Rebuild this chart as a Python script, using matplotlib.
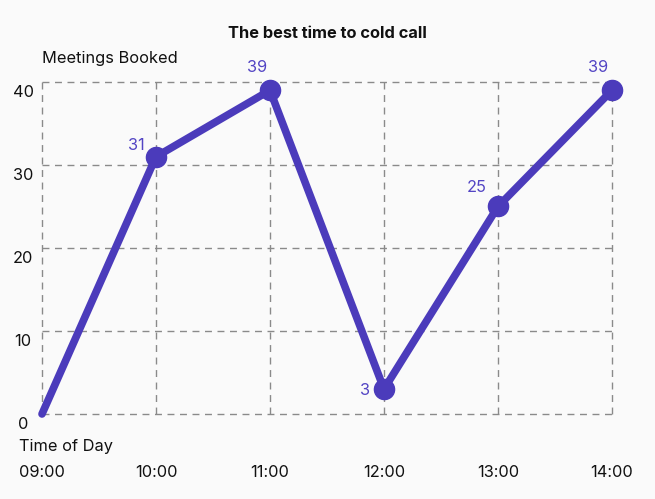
import matplotlib.pyplot as plt
from matplotlib import transforms

plt.rcParams['font.family'] = ['Inter', 'DejaVu Sans']

times = ['09:00', '10:00', '11:00', '12:00', '13:00', '14:00']
meetings = [0, 31, 39, 3, 25, 39]
y_ticks = [0, 10, 20, 30, 40]

# label offsets in points (dx, dy), one per point after the first
label_offsets = [(-14, 8), (-9, 16.5), (-14, -1), (-15, 13.5), (-10, 16.5)]

purple = '#4b3bbb'
bg = '#fafafa'
fs = 11.8

fig = plt.figure(figsize=(6.55, 4.99), dpi=100, facecolor=bg)
ax = fig.add_axes([42/655, 1-414/499, 570/655, 332/499], facecolor=bg)

x = list(range(len(times)))
ax.plot(x, meetings, color=purple, lw=5.5, solid_capstyle='round',
        marker='o', ms=14.5, markevery=list(range(1, len(times))),
        clip_on=False, zorder=3)

for i in range(1, len(times)):
    dx, dy = label_offsets[i-1]
    ax.annotate(str(meetings[i]), (x[i], meetings[i]), xytext=(dx, dy),
                textcoords='offset points', ha='center', va='center',
                color='#5345c4', fontsize=fs)

ax.set_xlim(0, len(times)-1)
ax.set_ylim(0, 40)
ax.set_xticks(x)
ax.set_xticklabels(times)
ax.set_yticks(y_ticks)
ax.set_yticklabels([str(v) for v in y_ticks])
ax.tick_params(length=0, labelsize=fs, colors='#111111')
ax.tick_params(axis='x', pad=37)
ax.tick_params(axis='y', pad=0)
for lab in ax.get_yticklabels():
    lab.set_horizontalalignment('center')
    lab.set_transform(lab.get_transform() +
                      transforms.ScaledTranslation(-19/100, -9/100, fig.dpi_scale_trans))

for s in ax.spines.values():
    s.set_visible(False)
ax.grid(True, color='#8a8a8a', lw=1, ls=(0, (5, 4)))
for gl in ax.get_xgridlines() + ax.get_ygridlines():
    gl.set_clip_on(False)

fig.text(0.5, 1-33/499, 'The best time to cold call', ha='center', va='center',
         fontsize=fs, fontweight='bold', color='#111111')
fig.text(42/655, 1-58/499, 'Meetings Booked', ha='left', va='center',
         fontsize=fs, color='#111111')
fig.text(19/655, 1-447/499, 'Time of Day', ha='left', va='center',
         fontsize=fs, color='#111111')

fig.savefig('out.png', dpi=100, facecolor=bg)
